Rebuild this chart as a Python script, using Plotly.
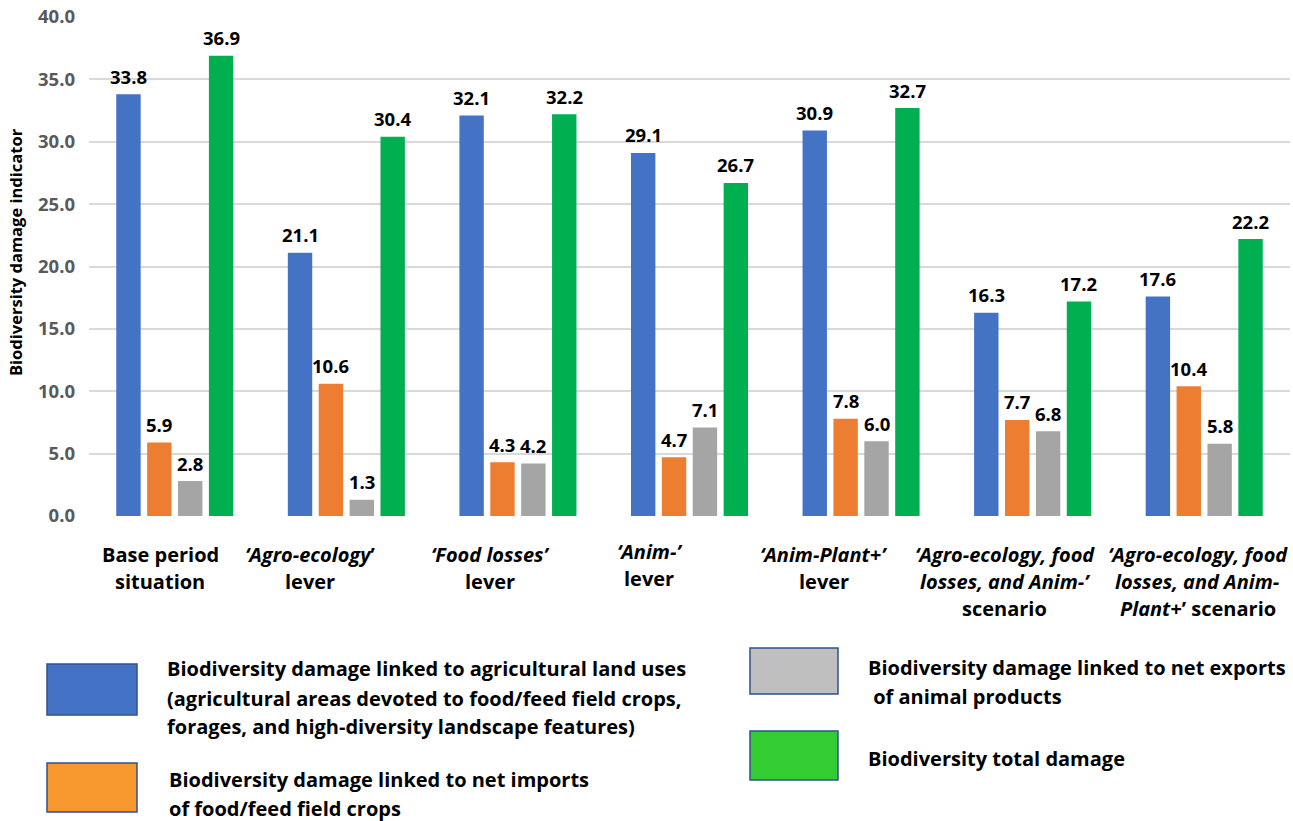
import plotly.graph_objects as go

# ---- data -------------------------------------------------------------
categories = [
    "Base period situation",
    "Agro-ecology lever",
    "Food losses lever",
    "Anim- lever",
    "Anim-Plant+ lever",
    "Agro-ecology, food losses, and Anim- scenario",
    "Agro-ecology, food losses, and Anim-Plant+ scenario",
]
category_lines = [
    ["Base period", "situation"],
    ["<i>‘Agro-ecology</i>’", "lever"],
    ["<i>‘Food losses’</i>", "lever"],
    ["<i>‘Anim-’</i>", "lever"],
    ["<i>‘Anim-Plant+’</i>", "lever"],
    ["<i>‘Agro-ecology, food</i>", "<i>losses, and Anim-’</i>", "scenario"],
    ["<i>‘Agro-ecology, food</i>", "<i>losses, and Anim-</i>", "<i>Plant+</i>’ scenario"],
]

land_use = [33.8, 21.1, 32.1, 29.1, 30.9, 16.3, 17.6]
net_imports = [5.9, 10.6, 4.3, 4.7, 7.8, 7.7, 10.4]
net_exports = [2.8, 1.3, 4.2, 7.1, 6.0, 6.8, 5.8]
total_damage = [36.9, 30.4, 32.2, 26.7, 32.7, 17.2, 22.2]

series_names = [
    "Biodiversity damage linked to agricultural land uses",
    "Biodiversity damage linked to net imports of food/feed field crops",
    "Biodiversity damage linked to net exports of animal products",
    "Biodiversity total damage",
]
legend_lines = [
    ["Biodiversity damage linked to agricultural land uses",
     "(agricultural areas devoted to food/feed field crops,",
     "forages, and high-diversity landscape features)"],
    ["Biodiversity damage linked to net imports",
     "of food/feed field crops"],
    ["Biodiversity damage linked to net exports",
     " of animal products"],
    ["Biodiversity total damage"],
]

y_ticks = [0, 5, 10, 15, 20, 25, 30, 35, 40]
y_title = "Biodiversity damage indicator"

# ---- styling ----------------------------------------------------------
bar_colors = ["#4472C4", "#ED7D31", "#A5A5A5", "#00B050"]
box_fills = ["#4472C4", "#F7982E", "#BFBFBF", "#33CC33"]
box_edge = "#2F528F"
FONT = "Open Sans"

W, H = 1293, 821
PLOT_L, PLOT_R, PLOT_T, PLOT_B = 89, 1290, 17, 516
BARGAP, GROUPGAP = 0.28, 0.21


def px_x(px):
    return (px - PLOT_L) / (PLOT_R - PLOT_L)


def px_y(py):
    return (PLOT_B - py) / (PLOT_B - PLOT_T)


series_values = [land_use, net_imports, net_exports, total_damage]

fig = go.Figure()
for name, vals, col in zip(series_names, series_values, bar_colors):
    fig.add_trace(go.Bar(
        x=categories, y=vals, name=name,
        marker=dict(color=col, line=dict(width=0)),
        showlegend=False,
    ))

annotations = []

# value labels above every bar, offset to each bar of the group
cat_px = (PLOT_R - PLOT_L) / len(categories)
slot_px = cat_px * (1 - BARGAP) / len(series_values)
for j, vals in enumerate(series_values):
    dx = (j - (len(series_values) - 1) / 2) * slot_px
    for cat, v in zip(categories, vals):
        annotations.append(dict(
            x=cat, y=v, xref="x", yref="y", text=f"<b>{v:.1f}</b>",
            showarrow=False, xanchor="center", yanchor="middle",
            xshift=dx, yshift=18,
            font=dict(family=FONT, size=18.5, color="#000000"),
        ))

# category labels under the axis
label_center_px = [160, 310, 490, 649, 824, 1005, 1198]
line_px = [554, 581, 608]
for i, (cat, lines) in enumerate(zip(categories, category_lines)):
    group_center = PLOT_L + (i + 0.5) * cat_px
    lift = 3 if i == 3 else 0
    for k, line in enumerate(lines):
        annotations.append(dict(
            x=cat, y=0, xref="x", yref="paper", text=f"<b>{line}</b>",
            showarrow=False, xanchor="center", yanchor="middle",
            xshift=label_center_px[i] - group_center,
            yshift=-(line_px[k] - PLOT_B) + lift,
            font=dict(family=FONT, size=20, color="#000000"),
        ))

# y-axis title
annotations.append(dict(
    x=px_x(15), y=px_y(252), xref="paper", yref="paper",
    text=f"<b>{y_title}</b>", textangle=-90, showarrow=False,
    xanchor="center", yanchor="middle",
    font=dict(family=FONT, size=16.5, color="#000000"),
))

# custom legend: boxes and multi-line text
legend_boxes = [
    (47, 664, 137, 715),
    (47, 763, 137, 812),
    (750, 648, 838, 694),
    (750, 731, 838, 780),
]
legend_text_x = [165, 167, 866, 866]
legend_text_y = [[668, 698, 727], [779, 808], [667, 696], [758]]

shapes = []
for (x0, y0, x1, y1), fill in zip(legend_boxes, box_fills):
    shapes.append(dict(
        type="rect", xref="paper", yref="paper",
        x0=px_x(x0), x1=px_x(x1), y0=px_y(y1), y1=px_y(y0),
        fillcolor=fill, line=dict(color=box_edge, width=1.5),
    ))
for lines, tx, tys in zip(legend_lines, legend_text_x, legend_text_y):
    for line, ty in zip(lines, tys):
        annotations.append(dict(
            x=px_x(tx), y=px_y(ty), xref="paper", yref="paper",
            text=f"<b>{line}</b>", showarrow=False,
            xanchor="left", yanchor="middle",
            font=dict(family=FONT, size=20, color="#000000"),
        ))

fig.update_layout(
    width=W, height=H,
    margin=dict(l=PLOT_L, r=W - PLOT_R, t=PLOT_T, b=H - PLOT_B),
    paper_bgcolor="white", plot_bgcolor="white",
    barmode="group", bargap=BARGAP, bargroupgap=GROUPGAP,
    showlegend=False,
    annotations=annotations, shapes=shapes,
    xaxis=dict(showticklabels=False, showgrid=False, showline=False,
               ticks=""),
    yaxis=dict(
        range=[0, 40], tickvals=y_ticks, tickformat=".1f",
        showgrid=True, gridcolor="#D9D9D9", gridwidth=2,
        zeroline=False, showline=False, ticks="",
        ticklabelstandoff=13,
        tickfont=dict(family=FONT, size=18.5, color="#595959", weight="bold"),
    ),
)

fig.write_html("out.html")
